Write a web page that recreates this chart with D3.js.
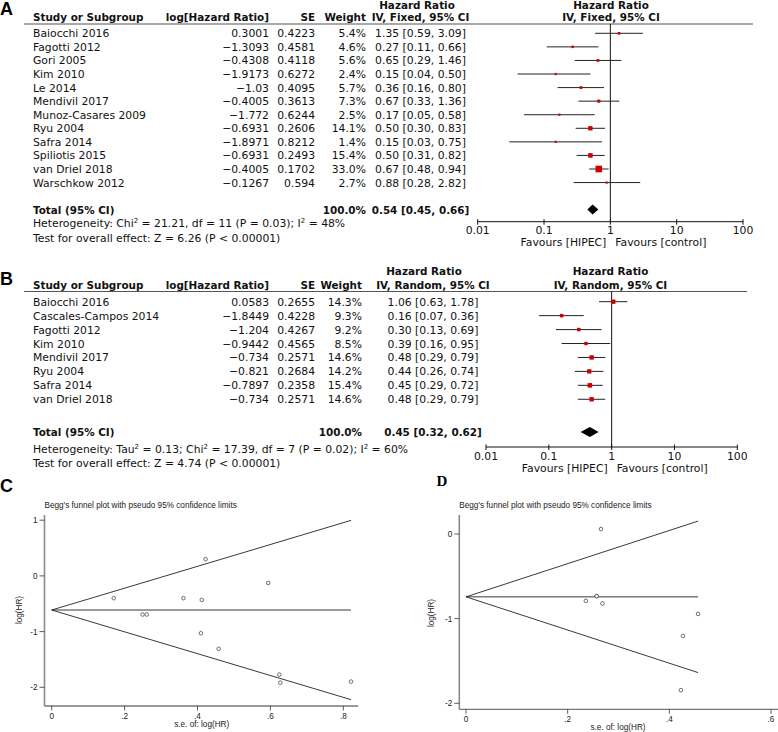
<!DOCTYPE html>
<html>
<head>
<meta charset="utf-8">
<script src="https://cdn.jsdelivr.net/npm/d3@7/dist/d3.min.js"></script>
<style>
  body { margin: 0; background: #fff; }
  svg { display: block; }
  .tbl { font-family: "DejaVu Sans", Verdana, sans-serif; font-size: 10.8px; fill: #111; }
  .tbl.b { font-weight: bold; font-size: 10.4px; }
  .fn { font-family: "Liberation Sans", Arial, sans-serif; font-size: 8.2px; fill: #222; }
</style>
</head>
<body>
<svg id="fig" width="778" height="732"></svg>
<script>
// ---- panel A: fixed effect ----
var namesA = ["Baiocchi 2016", "Fagotti 2012", "Gori 2005", "Kim 2010", "Le 2014", "Mendivil 2017",
    "Munoz-Casares 2009", "Ryu 2004", "Safra 2014", "Spiliotis 2015", "van Driel 2018", "Warschkow 2012"];
var logHrA = [0.3001, -1.3093, -0.4308, -1.9173, -1.03, -0.4005, -1.772, -0.6931, -1.8971, -0.6931, -0.4005, -0.1267];
var seA = [0.4223, 0.4581, 0.4118, 0.6272, 0.4095, 0.3613, 0.6244, 0.2606, 0.8212, 0.2493, 0.1702, 0.594];
var weightA = [5.4, 4.6, 5.6, 2.4, 5.7, 7.3, 2.5, 14.1, 1.4, 15.4, 33.0, 2.7];
var hrA = [1.35, 0.27, 0.65, 0.15, 0.36, 0.67, 0.17, 0.50, 0.15, 0.50, 0.67, 0.88];
var loA = [0.59, 0.11, 0.29, 0.04, 0.16, 0.33, 0.05, 0.30, 0.03, 0.31, 0.48, 0.28];
var hiA = [3.09, 0.66, 1.46, 0.50, 0.80, 1.36, 0.58, 0.83, 0.75, 0.82, 0.94, 2.82];
var totalA = [0.54, 0.45, 0.66];
var hetA = "Heterogeneity: Chi^2 = 21.21, df = 11 (P = 0.03); I^2 = 48%";
var testA = "Test for overall effect: Z = 6.26 (P < 0.00001)";

// ---- panel B: random effects ----
var namesB = ["Baiocchi 2016", "Cascales-Campos 2014", "Fagotti 2012", "Kim 2010", "Mendivil 2017",
    "Ryu 2004", "Safra 2014", "van Driel 2018"];
var logHrB = [0.0583, -1.8449, -1.204, -0.9442, -0.734, -0.821, -0.7897, -0.734];
var seB = [0.2655, 0.4228, 0.4267, 0.4565, 0.2571, 0.2684, 0.2358, 0.2571];
var weightB = [14.3, 9.3, 9.2, 8.5, 14.6, 14.2, 15.4, 14.6];
var hrB = [1.06, 0.16, 0.30, 0.39, 0.48, 0.44, 0.45, 0.48];
var loB = [0.63, 0.07, 0.13, 0.16, 0.29, 0.26, 0.29, 0.29];
var hiB = [1.78, 0.36, 0.69, 0.95, 0.79, 0.74, 0.72, 0.79];
var totalB = [0.45, 0.32, 0.62];
var hetB = "Heterogeneity: Tau^2 = 0.13; Chi^2 = 17.39, df = 7 (P = 0.02); I^2 = 60%";
var testB = "Test for overall effect: Z = 4.74 (P < 0.00001)";

var axisTicks = [0.01, 0.1, 1, 10, 100];
var axisLabels = ["0.01", "0.1", "1", "10", "100"];

var svg = d3.select("#fig");
var RED = "#cc0000";

function fmtNum(v) { return String(v).replace("-", "\u2212"); }
function fmtCI(h, l, u) { return h.toFixed(2) + " [" + l.toFixed(2) + ", " + u.toFixed(2) + "]"; }

/* text with ^2 turned into superscripts */
function supText(g, str, x, y, cls) {
    var t = g.append("text").attr("class", cls).attr("x", x).attr("y", y);
    var parts = str.split("^2");
    parts.forEach(function(p, i) {
        t.append("tspan").attr("dy", i == 0 ? 0 : 4).text(p);
        if (i < parts.length - 1) {
            t.append("tspan").attr("dy", -4).style("font-size", "7px").text("2");
        }
    });
}

function forest(cfg, names, logHr, se, weight, hr, lo, hi, total, method, het, test) {
    var g = svg.append("g");
    var x = d3.scaleLog().domain([0.01, 100]).range(cfg.xr);
    var rowY = i => cfg.row0 + i * cfg.step;

    g.append("text").attr("x", 0).attr("y", cfg.lab).text(cfg.label)
        .style("font", "bold 18px 'Liberation Sans', Arial, sans-serif");

    // headers
    g.append("text").attr("class", "tbl b").attr("x", cfg.hrHead1).attr("y", cfg.h1)
        .attr("text-anchor", "middle").text("Hazard Ratio");
    g.append("text").attr("class", "tbl b").attr("x", cfg.hrCol).attr("y", cfg.h2)
        .attr("text-anchor", "middle").text("IV, " + method + ", 95% CI");
    g.append("text").attr("class", "tbl b").attr("x", cfg.fc).attr("y", cfg.h1)
        .attr("text-anchor", "middle").text("Hazard Ratio");
    g.append("text").attr("class", "tbl b").attr("x", cfg.fc).attr("y", cfg.h2)
        .attr("text-anchor", "middle").text("IV, " + method + ", 95% CI");
    g.append("text").attr("class", "tbl b").attr("x", 33).attr("y", cfg.h2).text("Study or Subgroup");
    g.append("text").attr("class", "tbl b").attr("x", 269).attr("y", cfg.h2)
        .attr("text-anchor", "end").text("log[Hazard Ratio]");
    g.append("text").attr("class", "tbl b").attr("x", 315).attr("y", cfg.h2)
        .attr("text-anchor", "end").text("SE");
    g.append("text").attr("class", "tbl b").attr("x", cfg.wx).attr("y", cfg.h2)
        .attr("text-anchor", "end").text("Weight");
    g.append("line").attr("x1", 24).attr("x2", cfg.lineEnd).attr("y1", cfg.hline).attr("y2", cfg.hline)
        .attr("stroke", "#555").attr("stroke-width", 1.2);

    // rows
    names.forEach(function(n, i) {
        var y = rowY(i) + 4;
        g.append("text").attr("class", "tbl").attr("x", 33).attr("y", y).text(n);
        g.append("text").attr("class", "tbl").attr("x", 269).attr("y", y).attr("text-anchor", "end").text(fmtNum(logHr[i]));
        g.append("text").attr("class", "tbl").attr("x", 315).attr("y", y).attr("text-anchor", "end").text(se[i]);
        g.append("text").attr("class", "tbl").attr("x", cfg.wx).attr("y", y).attr("text-anchor", "end").text(weight[i].toFixed(1) + "%");
        g.append("text").attr("class", "tbl").attr("x", cfg.hrCol).attr("y", y).attr("text-anchor", "middle").text(fmtCI(hr[i], lo[i], hi[i]));
    });

    // total row
    var ty = cfg.total + 4;
    g.append("text").attr("class", "tbl b").attr("x", 33).attr("y", ty).text("Total (95% CI)");
    g.append("text").attr("class", "tbl b").attr("x", cfg.wx).attr("y", ty).attr("text-anchor", "end").text("100.0%");
    g.append("text").attr("class", "tbl b").attr("x", cfg.hrCol).attr("y", ty).attr("text-anchor", "middle")
        .text(fmtCI(total[0], total[1], total[2]));
    supText(g, het, 33, cfg.het, "tbl");
    g.append("text").attr("class", "tbl").attr("x", 33).attr("y", cfg.test).text(test);

    // null line
    g.append("line").attr("x1", x(1)).attr("x2", x(1)).attr("y1", cfg.hline).attr("y2", cfg.axis)
        .attr("stroke", "#111").attr("stroke-width", 1);

    // CI lines and boxes
    g.selectAll(".ci").data(names).join("line")
        .attr("x1", (d, i) => x(Math.max(lo[i], 0.01))).attr("x2", (d, i) => x(hi[i]))
        .attr("y1", (d, i) => rowY(i)).attr("y2", (d, i) => rowY(i))
        .attr("stroke", "#222").attr("stroke-width", 1);
    g.selectAll(".box").data(names).join("rect")
        .each(function(d, i) {
            var s = Math.max(2.2, 1.15 * Math.sqrt(weight[i]));
            d3.select(this).attr("x", x(hr[i]) - s / 2).attr("y", rowY(i) - s / 2)
                .attr("width", s).attr("height", s).attr("fill", RED);
        });

    // diamond
    var dh = 5;
    g.append("path").attr("fill", "#000")
        .attr("d", `M${x(total[1])},${cfg.total} L${x(total[0])},${cfg.total - dh} L${x(total[2])},${cfg.total} L${x(total[0])},${cfg.total + dh}Z`);

    // axis
    var ax = g.append("g").attr("transform", `translate(0,${cfg.axis})`);
    ax.append("line").attr("x1", x(0.01)).attr("x2", x(100)).attr("stroke", "#111");
    ax.selectAll(".tk").data(axisTicks).join("line")
        .attr("x1", d => x(d)).attr("x2", d => x(d)).attr("y1", -2.5).attr("y2", 3)
        .attr("stroke", "#111");
    ax.selectAll(".tl").data(axisTicks).join("text").attr("class", "tbl")
        .attr("x", d => x(d)).attr("y", cfg.tickLab).attr("text-anchor", "middle")
        .text((d, i) => axisLabels[i]);
    ax.append("text").attr("class", "tbl").attr("x", x(1) - 4).attr("y", cfg.fav)
        .attr("text-anchor", "end").text("Favours [HIPEC]");
    ax.append("text").attr("class", "tbl").attr("x", x(1) + 5).attr("y", cfg.fav)
        .text("Favours [control]");
}

forest({label: "A", lab: 15, h1: 8.5, h2: 21.3, hline: 24, lineEnd: 753, row0: 33.3, step: 13.57,
        total: 209.5, het: 227.3, test: 241.7, axis: 221.7, tickLab: 12.5, fav: 24,
        xr: [477.7, 743], fc: 611, hrCol: 420.5, hrHead1: 417, wx: 366},
    namesA, logHrA, seA, weightA, hrA, loA, hiA, totalA, "Fixed", hetA, testA);

forest({label: "B", lab: 285, h1: 275, h2: 288.8, hline: 291.5, lineEnd: 747, row0: 301.7, step: 13.94,
        total: 432, het: 453, test: 467, axis: 447, tickLab: 12.5, fav: 25,
        xr: [486, 737.3], fc: 610.5, hrCol: 433, hrHead1: 424, wx: 362},
    namesB, logHrB, seB, weightB, hrB, loB, hiB, totalB, "Random", hetB, testB);

// ---- funnel plots ----
var funnelTitle = "Begg's funnel plot with pseudo 95% confidence limits";

function funnel(cfg, logHr, se) {
    var g = svg.append("g");
    var x = d3.scaleLinear().domain(cfg.xd).range(cfg.xr);
    var y = d3.scaleLinear().domain(cfg.yd).range(cfg.yr);

    // fixed-effect pooled estimate
    var w = se.map(s => 1 / (s * s));
    var b = d3.sum(logHr, (v, i) => v * w[i]) / d3.sum(w);
    var smax = d3.max(se);

    g.append("text").attr("x", cfg.labX).attr("y", cfg.labY).text(cfg.label).style("font", cfg.labFont);
    g.append("text").attr("class", "fn").attr("x", cfg.ax).attr("y", cfg.titleY).text(funnelTitle);

    // axes
    g.append("line").attr("x1", cfg.ax).attr("x2", cfg.ax).attr("y1", cfg.yTop).attr("y2", cfg.ay)
        .attr("stroke", "#8a8a8a").attr("stroke-width", 1.6);
    g.append("line").attr("x1", cfg.ax).attr("x2", cfg.xEnd).attr("y1", cfg.ay).attr("y2", cfg.ay)
        .attr("stroke", "#777").attr("stroke-width", 1.3);
    g.selectAll(".yt").data(cfg.yTicks).join("line")
        .attr("x1", cfg.ax - 5).attr("x2", cfg.ax).attr("y1", d => y(d)).attr("y2", d => y(d))
        .attr("stroke", "#333").attr("stroke-width", 0.8);
    g.selectAll(".yl").data(cfg.yTicks).join("text").attr("class", "fn")
        .attr("x", cfg.ax - 7).attr("y", d => y(d) + 2.9).attr("text-anchor", "end")
        .text(d => d < 0 ? "-" + Math.abs(d) : d);
    g.selectAll(".xt").data(cfg.xTicks).join("line")
        .attr("x1", d => x(d)).attr("x2", d => x(d)).attr("y1", cfg.ay).attr("y2", cfg.ay + 4.5)
        .attr("stroke", "#333").attr("stroke-width", 0.8);
    g.selectAll(".xl").data(cfg.xTicks).join("text").attr("class", "fn")
        .attr("x", d => x(d)).attr("y", cfg.ay + 12.5).attr("text-anchor", "middle")
        .text(d => d == 0 ? "0" : d3.format(".1f")(d).replace(/^0/, ""));
    g.append("text").attr("class", "fn").attr("x", cfg.xTitleX).attr("y", cfg.ay + 20.5)
        .attr("text-anchor", "middle").text("s.e. of: log(HR)");
    g.append("text").attr("class", "fn").attr("text-anchor", "middle")
        .attr("transform", `translate(${cfg.yTitleX},${cfg.yTitleY}) rotate(-90)`).text("log(HR)");

    // pseudo confidence limits
    var lines = [[b, b], [b, b + 1.96 * smax], [b, b - 1.96 * smax]];
    g.selectAll(".lim").data(lines).join("line")
        .attr("x1", x(0)).attr("x2", x(smax)).attr("y1", d => y(d[0])).attr("y2", d => y(d[1]))
        .attr("stroke", "#222").attr("stroke-width", 0.9);

    g.selectAll(".pt").data(logHr).join("circle")
        .attr("cx", (d, i) => x(se[i])).attr("cy", d => y(d)).attr("r", 1.8)
        .attr("fill", "#fff").attr("stroke", "#333").attr("stroke-width", 0.7);
}

funnel({label: "C", labX: 0, labY: 491.5, labFont: "bold 18px 'Liberation Sans', Arial, sans-serif",
        titleY: 507.5, ax: 44.5, ay: 706, yTop: 515, xEnd: 358,
        xd: [0, 0.8], xr: [51.7, 343.3], yd: [-2, 1], yr: [687.3, 520.2],
        yTicks: [-2, -1, 0, 1], xTicks: [0, 0.2, 0.4, 0.6, 0.8],
        xTitleX: 201.7, yTitleX: 22, yTitleY: 610},
    logHrA, seA);

funnel({label: "D", labX: 436.5, labY: 486, labFont: "bold 15px 'Liberation Serif', 'Times New Roman', serif",
        titleY: 507.5, ax: 459.3, ay: 709.3, yTop: 515, xEnd: 778,
        xd: [0, 0.6], xr: [466, 771], yd: [-2, 0], yr: [703.3, 534],
        yTicks: [-2, -1, 0], xTicks: [0, 0.2, 0.4, 0.6],
        xTitleX: 618, yTitleX: 434, yTitleY: 613},
    logHrB, seB);
</script>
</body>
</html>
